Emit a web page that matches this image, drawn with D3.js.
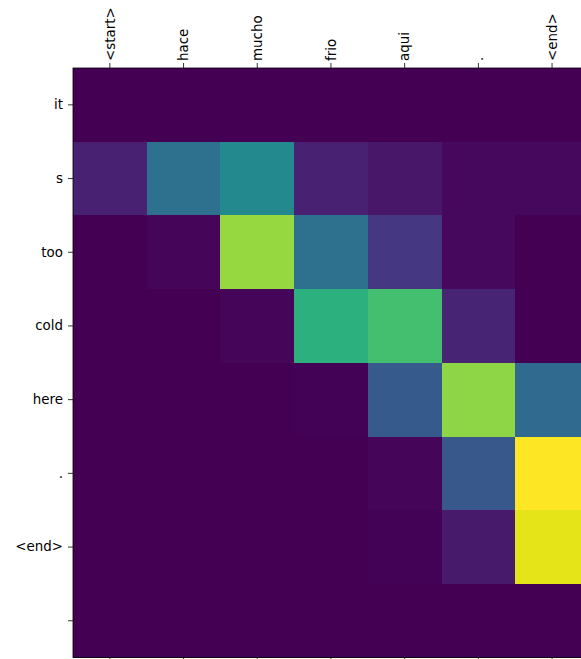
<!DOCTYPE html>
<html>
<head>
<meta charset="utf-8">
<script src="https://cdn.jsdelivr.net/npm/d3@7"></script>
<style>
  html, body { margin: 0; padding: 0; background: #fff; overflow: hidden; }
  svg { display: block; }
  text { font-family: "DejaVu Sans", sans-serif; font-size: 13.4px; fill: #000; }
</style>
</head>
<body>
<svg id="chart" width="620" height="659"></svg>
<script>
// Source tokens (columns) and predicted tokens (rows)
const sourceTokens = ["<start>", "hace", "mucho", "frio", "aqui", ".", "<end>"];
const targetTokens = ["it", "s", "too", "cold", "here", ".", "<end>", ""];

// Attention weights, one array per predicted token (normalised 0..1)
const attnIt    = [0.00, 0.00, 0.00, 0.00, 0.00, 0.00, 0.00];
const attnS     = [0.09, 0.37, 0.47, 0.09, 0.06, 0.02, 0.02];
const attnToo   = [0.003, 0.012, 0.84, 0.37, 0.16, 0.02, 0.003];
const attnCold  = [0.00, 0.00, 0.015, 0.64, 0.70, 0.10, 0.003];
const attnHere  = [0.00, 0.00, 0.00, 0.004, 0.28, 0.83, 0.34];
const attnDot   = [0.00, 0.00, 0.00, 0.00, 0.012, 0.27, 1.00];
const attnEnd   = [0.00, 0.00, 0.00, 0.00, 0.006, 0.07, 0.96];
const attnBlank = [0.00, 0.00, 0.00, 0.00, 0.00, 0.00, 0.00];
const attention = [attnIt, attnS, attnToo, attnCold, attnHere, attnDot, attnEnd, attnBlank];

const cell = 73.7;
const leftEdge = 73, topEdge = 68;

const svg = d3.select("#chart");

const x = d3.scaleBand()
  .domain(d3.range(sourceTokens.length))
  .range([leftEdge, leftEdge + cell * sourceTokens.length])
  .padding(0);

const y = d3.scaleBand()
  .domain(d3.range(targetTokens.length))
  .range([topEdge, topEdge + cell * targetTokens.length])
  .padding(0);

const color = d3.scaleSequential(d3.interpolateViridis).domain([0, 1]);

const cells = [];
attention.forEach((row, r) => row.forEach((v, c) => cells.push({ r, c, v })));

svg.append("g")
  .selectAll("rect")
  .data(cells)
  .join("rect")
  .attr("x", d => x(d.c))
  .attr("y", d => y(d.r))
  .attr("width", x.bandwidth() + 0.5)
  .attr("height", y.bandwidth() + 0.5)
  .attr("fill", d => color(d.v))
  .attr("shape-rendering", "crispEdges");

// Frame around the matrix
svg.append("rect")
  .attr("x", leftEdge)
  .attr("y", topEdge)
  .attr("width", cell * sourceTokens.length)
  .attr("height", cell * targetTokens.length)
  .attr("fill", "none")
  .attr("stroke", "#000")
  .attr("stroke-width", 0.8);

// Top axis with rotated source tokens
const xTop = d3.axisTop(x).tickSize(5).tickFormat(i => sourceTokens[i]);
const gTop = svg.append("g").attr("transform", `translate(0,${topEdge})`).call(xTop);
gTop.select(".domain").remove();
gTop.selectAll("text")
  .attr("transform", "rotate(-90)")
  .attr("x", 7)
  .attr("y", 0)
  .attr("dy", "0.35em")
  .attr("text-anchor", "start")
  .style("font-size", "13.4px")
  .style("font-family", "'DejaVu Sans', sans-serif");

// Bottom axis, ticks only
const xBottom = d3.axisBottom(x).tickSize(5).tickFormat("");
const gBottom = svg.append("g")
  .attr("transform", `translate(0,${topEdge + cell * targetTokens.length})`)
  .call(xBottom);
gBottom.select(".domain").remove();

// Left axis with predicted tokens
const yLeft = d3.axisLeft(y).tickSize(5).tickPadding(5).tickFormat(i => targetTokens[i]);
const gLeft = svg.append("g").attr("transform", `translate(${leftEdge},0)`).call(yLeft);
gLeft.select(".domain").remove();
gLeft.selectAll("text")
  .style("font-size", "13.4px")
  .style("font-family", "'DejaVu Sans', sans-serif");

svg.selectAll(".tick line").attr("stroke", "#000").attr("stroke-width", 0.8);
</script>
</body>
</html>
